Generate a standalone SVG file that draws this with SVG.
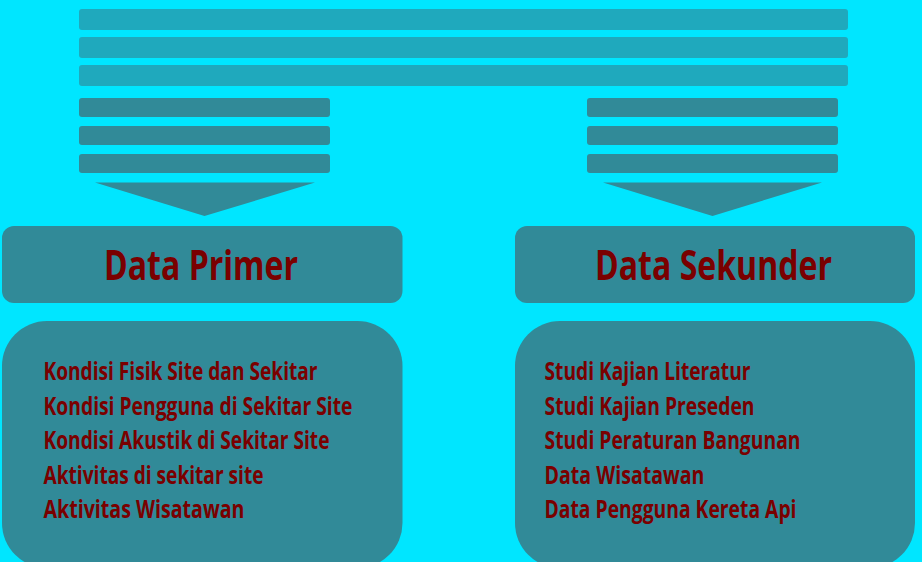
<svg xmlns="http://www.w3.org/2000/svg" width="922" height="562" viewBox="0 0 922 562">
<style>
.bg{fill:#00e6ff}
.lt{fill:#1fa9bd}
.dk{fill:#318a98}
.h{font-family:"Open Sans","Liberation Sans",sans-serif;font-weight:bold;font-size:42px;fill:#7a0000}
.t{font-family:"Open Sans","Liberation Sans",sans-serif;font-weight:bold;font-size:25.5px;fill:#7a0000}
</style>
<rect class="bg" x="0" y="0" width="922" height="562"/>
<g id="connectors">
<rect class="lt" x="79" y="9" width="769" height="21" rx="3"/>
<rect class="lt" x="79" y="37" width="769" height="21" rx="3"/>
<rect class="lt" x="79" y="65" width="769" height="21" rx="3"/>
<rect class="dk" x="79" y="98" width="251" height="19" rx="3"/>
<rect class="dk" x="79" y="126" width="251" height="19" rx="3"/>
<rect class="dk" x="79" y="154" width="251" height="19" rx="3"/>
<polygon class="dk" points="95,182.5 315,182.5 204.5,216"/>
<rect class="dk" x="587" y="98" width="251" height="19" rx="3"/>
<rect class="dk" x="587" y="126" width="251" height="19" rx="3"/>
<rect class="dk" x="587" y="154" width="251" height="19" rx="3"/>
<polygon class="dk" points="603,182.5 822,182.5 712.5,216"/>
</g>
<g id="primer-header">
<rect class="dk" x="2" y="226" width="400.5" height="77" rx="12"/>
<text class="h" x="104" y="280" textLength="194" lengthAdjust="spacingAndGlyphs">Data Primer</text>
</g>
<g id="sekunder-header">
<rect class="dk" x="515" y="226" width="400" height="77" rx="12"/>
<text class="h" x="595" y="280" textLength="237" lengthAdjust="spacingAndGlyphs">Data Sekunder</text>
</g>
<g id="primer-list">
<rect class="dk" x="2" y="321" width="400.5" height="247" rx="45"/>
<text class="t" x="43.5" y="380" textLength="274" lengthAdjust="spacingAndGlyphs">Kondisi Fisik Site dan Sekitar</text>
<text class="t" x="43.5" y="414.5" textLength="309" lengthAdjust="spacingAndGlyphs">Kondisi Pengguna di Sekitar Site</text>
<text class="t" x="43.5" y="449" textLength="286" lengthAdjust="spacingAndGlyphs">Kondisi Akustik di Sekitar Site</text>
<text class="t" x="43.5" y="483.5" textLength="220" lengthAdjust="spacingAndGlyphs">Aktivitas di sekitar site</text>
<text class="t" x="43.5" y="518" textLength="201" lengthAdjust="spacingAndGlyphs">Aktivitas Wisatawan</text>
</g>
<g id="sekunder-list">
<rect class="dk" x="515" y="321" width="400" height="247" rx="45"/>
<text class="t" x="544.5" y="380" textLength="206" lengthAdjust="spacingAndGlyphs">Studi Kajian Literatur</text>
<text class="t" x="544.5" y="414.5" textLength="210" lengthAdjust="spacingAndGlyphs">Studi Kajian Preseden</text>
<text class="t" x="544.5" y="449" textLength="256" lengthAdjust="spacingAndGlyphs">Studi Peraturan Bangunan</text>
<text class="t" x="544.5" y="483.5" textLength="160" lengthAdjust="spacingAndGlyphs">Data Wisatawan</text>
<text class="t" x="544.5" y="518" textLength="252" lengthAdjust="spacingAndGlyphs">Data Pengguna Kereta Api</text>
</g>
</svg>
